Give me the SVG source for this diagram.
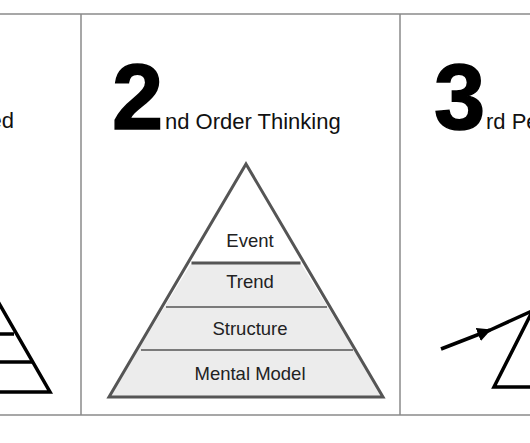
<svg xmlns="http://www.w3.org/2000/svg" width="530" height="443" viewBox="0 0 530 443">
<style>
.frame{stroke:#8a8a8a;stroke-width:1.5;fill:none}
.big{font-family:"Liberation Sans",Arial,sans-serif;font-weight:bold;font-size:92px;fill:#000;stroke:#000;stroke-width:1.5}
.title{font-family:"Liberation Sans",Arial,sans-serif;font-size:22px;fill:#111}
.lbl{font-family:"Liberation Sans",Arial,sans-serif;font-size:18.5px;fill:#222;text-anchor:middle}
.blk{stroke:#000;stroke-width:3.5;fill:none;stroke-linejoin:miter}
.pyr{stroke:#555;stroke-width:3;stroke-linejoin:miter}
.div{stroke:#555;stroke-width:1.5}
</style>
<defs>
<marker id="arr" viewBox="0 0 10 10" refX="9" refY="5" markerWidth="4" markerHeight="4" orient="auto" markerUnits="strokeWidth">
<path d="M0,0 L10,5 L0,10 z" fill="#000"/>
</marker>
</defs>
<rect width="530" height="443" fill="#fff"/>
<g id="frame">
<line class="frame" x1="0" y1="14" x2="530" y2="14"/>
<line class="frame" x1="0" y1="415" x2="530" y2="415"/>
<line class="frame" x1="81" y1="14" x2="81" y2="415"/>
<line class="frame" x1="400" y1="14" x2="400" y2="415"/>
</g>
<g id="panel1">
<text class="title" x="14" y="128" text-anchor="end">ed</text>
<path class="blk" d="M-4,298 L50,392 L-4,392"/>
<line class="blk" x1="-4" y1="334" x2="14" y2="334"/>
<line class="blk" x1="-4" y1="362" x2="32" y2="362"/>
</g>
<g id="panel2">
<text class="big" x="112" y="129">2</text>
<text class="title" x="165" y="129">nd Order Thinking</text>
<path d="M191.5,263 L300.5,263 L383,397 L109,397 Z" fill="#ececec"/>
<path d="M246,164 L300.5,263 L191.5,263 Z" fill="#fff"/>
<g id="layer-event"><line class="pyr" x1="191.5" y1="263" x2="300.5" y2="263"/><text class="lbl" x="250" y="247">Event</text></g>
<g id="layer-trend"><line class="div" x1="166" y1="307" x2="327" y2="307"/><text class="lbl" x="250" y="288">Trend</text></g>
<g id="layer-structure"><line class="div" x1="141" y1="350" x2="353" y2="350"/><text class="lbl" x="250" y="335">Structure</text></g>
<g id="layer-mental"><text class="lbl" x="250" y="380">Mental Model</text></g>
<path class="pyr" d="M246,164 L383,397 L109,397 Z" fill="none"/>
</g>
<g id="panel3">
<text class="big" x="434" y="129">3</text>
<text class="title" x="486" y="129">rd Pe</text>
<g id="connectors">
<line class="blk" x1="441" y1="349" x2="490" y2="330" marker-end="url(#arr)"/>
<line class="blk" x1="488" y1="331" x2="534" y2="310"/>
</g>
<path class="blk" d="M534,308 L494,387 L534,387"/>
</g>
</svg>
